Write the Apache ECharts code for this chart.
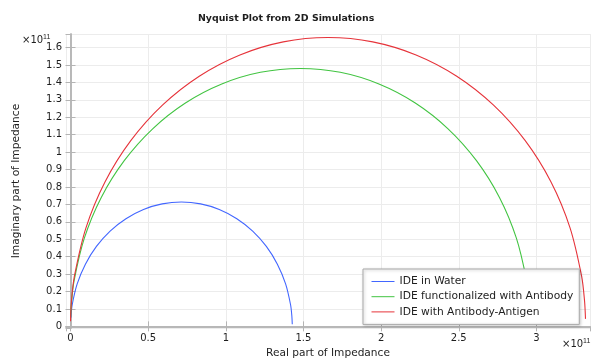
<!DOCTYPE html>
<html>
<head>
<meta charset="utf-8">
<script src="https://cdn.jsdelivr.net/npm/echarts@6/dist/echarts.min.js"></script>
<style>
html, body { margin: 0; padding: 0; background: #fff; }
#main { width: 593px; height: 364px; }
</style>
</head>
<body>
<div id="main"></div>
<script>
// 数值单位: 1e11 Ohm (坐标轴上的 ×10^11)
var seriesNames = ['IDE in Water', 'IDE functionalized with Antibody', 'IDE with Antibody-Antigen'];
var seriesColors = ['#4266ff', '#42c442', '#e6333a'];

// IDE in Water
var blueRe = [0.002, 0.011, 0.043, 0.096, 0.167, 0.255, 0.357, 0.470, 0.590, 0.714, 0.838, 0.958, 1.071, 1.173, 1.261, 1.332, 1.385, 1.417, 1.425, 1.428];
var blueIm = [0.050, 0.124, 0.244, 0.357, 0.459, 0.547, 0.618, 0.671, 0.703, 0.714, 0.703, 0.671, 0.618, 0.547, 0.459, 0.357, 0.244, 0.124, 0.062, 0.012];

// IDE functionalized with Antibody
var greenRe = [0.001, 0.006, 0.022, 0.089, 0.198, 0.346, 0.529, 0.740, 0.974, 1.223, 1.480, 1.737, 1.986, 2.220, 2.431, 2.614, 2.762, 2.871, 2.938, 2.954, 2.960];
var greenIm = [0.052, 0.129, 0.257, 0.506, 0.740, 0.951, 1.134, 1.282, 1.391, 1.458, 1.480, 1.458, 1.391, 1.282, 1.134, 0.951, 0.740, 0.506, 0.257, 0.129, 0.036];

// IDE with Antibody-Antigen
var redRe = [0.000, 0.006, 0.025, 0.100, 0.222, 0.388, 0.592, 0.829, 1.091, 1.370, 1.658, 1.946, 2.225, 2.487, 2.724, 2.928, 3.094, 3.216, 3.291, 3.310, 3.316];
var redIm = [0.029, 0.145, 0.288, 0.567, 0.829, 1.066, 1.270, 1.436, 1.558, 1.633, 1.658, 1.633, 1.558, 1.436, 1.270, 1.066, 0.829, 0.567, 0.288, 0.145, 0.043];

// 坐标轴范围
var xMin = -0.029, xMax = 3.345;
var yMin = -0.010, yMax = 1.678;

function zip(re, im) {
	var out = [];
	for (var i = 0; i < re.length; i++) {
		out.push([re[i], im[i]]);
	}
	return out;
}

var font = 'DejaVu Sans';
var frameColor = '#b4b4b4';
var textColor = '#1e1e1e';

var chart = echarts.init(document.getElementById('main'));

var seriesList = [];
var allData = [zip(blueRe, blueIm), zip(greenRe, greenIm), zip(redRe, redIm)];
for (var i = 0; i < allData.length; i++) {
	seriesList.push({
		name: seriesNames[i],
		type: 'line',
		data: allData[i],
		symbol: 'none',
		smooth: 0.3,
		xAxisIndex: 0,
		yAxisIndex: 0,
		lineStyle: { width: 1.1, color: seriesColors[i] },
		itemStyle: { color: seriesColors[i] }
	});
}

var option = {
	animation: false,
	backgroundColor: '#fff',
	title: {
		text: 'Nyquist Plot from 2D Simulations',
		left: 193,
		top: 9,
		textStyle: { fontFamily: font, fontSize: 9.4, fontWeight: 'bold', color: textColor }
	},
	grid: { left: 66, right: 3, top: 34, bottom: 29 },
	legend: {
		orient: 'vertical',
		left: 363,
		top: 269,
		padding: [7, 6, 7, 8],
		itemGap: 4.2,
		itemWidth: 23,
		itemHeight: 10.6,
		backgroundColor: '#fff',
		borderColor: '#aaa',
		borderWidth: 1,
		shadowColor: 'rgba(0,0,0,0.25)',
		shadowBlur: 3,
		shadowOffsetX: 1,
		shadowOffsetY: 1,
		itemStyle: { opacity: 0 }, // 只显示线段，不显示圆点
		lineStyle: { width: 1, color: 'inherit' },
		textStyle: { fontFamily: font, fontSize: 10.7, color: textColor },
		data: seriesNames
	},
	xAxis: [{
		type: 'value',
		min: xMin,
		max: xMax,
		splitNumber: 7,
		minInterval: 0.5,
		maxInterval: 0.5,
		name: 'Real part of Impedance',
		nameLocation: 'middle',
		nameGap: 19,
		nameTextStyle: { fontFamily: font, fontSize: 10.6, color: textColor },
		axisLine: { show: true, lineStyle: { color: frameColor, width: 1.5 } },
		axisTick: { show: true, inside: true, length: 5, lineStyle: { color: frameColor } },
		axisLabel: { showMinLabel: false, showMaxLabel: false, margin: 5, fontFamily: font, fontSize: 10, color: textColor },
		splitLine: { show: true, lineStyle: { color: '#ececec', width: 1 } }
	}, {
		type: 'value',
		position: 'top',
		min: xMin,
		max: xMax,
		splitNumber: 7,
		minInterval: 0.5,
		maxInterval: 0.5,
		axisLine: { show: true, lineStyle: { color: frameColor, width: 1.5 } },
		axisTick: { show: true, inside: true, length: 5, lineStyle: { color: frameColor } },
		axisLabel: { show: false },
		splitLine: { show: false }
	}],
	yAxis: [{
		type: 'value',
		min: yMin,
		max: yMax,
		splitNumber: 17,
		minInterval: 0.1,
		maxInterval: 0.1,
		name: 'Imaginary part of Impedance',
		nameLocation: 'middle',
		nameGap: 44,
		nameTextStyle: { fontFamily: font, fontSize: 10.6, color: textColor },
		axisLine: { show: true, lineStyle: { color: frameColor, width: 1.5 } },
		axisTick: { show: true, inside: true, length: 5, lineStyle: { color: frameColor } },
		axisLabel: { showMinLabel: false, showMaxLabel: false, margin: 4, fontFamily: font, fontSize: 10, color: textColor },
		splitLine: { show: true, lineStyle: { color: '#ececec', width: 1 } }
	}, {
		type: 'value',
		position: 'right',
		min: yMin,
		max: yMax,
		splitNumber: 17,
		minInterval: 0.1,
		maxInterval: 0.1,
		axisLine: { show: true, lineStyle: { color: frameColor, width: 1.5 } },
		axisTick: { show: true, inside: true, length: 5, lineStyle: { color: frameColor } },
		axisLabel: { show: false },
		splitLine: { show: false }
	}],
	// ×10^11 倍数标记
	graphic: [{
		type: 'text',
		left: 22,
		top: 34,
		style: {
			text: '×10{s|11}',
			fontFamily: font,
			fontSize: 10,
			fill: textColor,
			rich: { s: { fontSize: 7, verticalAlign: 'top', padding: [0, 0, 6, 0] } }
		}
	}, {
		type: 'text',
		left: 562,
		top: 338,
		style: {
			text: '×10{s|11}',
			fontFamily: font,
			fontSize: 10,
			fill: textColor,
			rich: { s: { fontSize: 7, verticalAlign: 'top', padding: [0, 0, 6, 0] } }
		}
	}],
	series: seriesList
};

chart.setOption(option);
</script>
</body>
</html>
